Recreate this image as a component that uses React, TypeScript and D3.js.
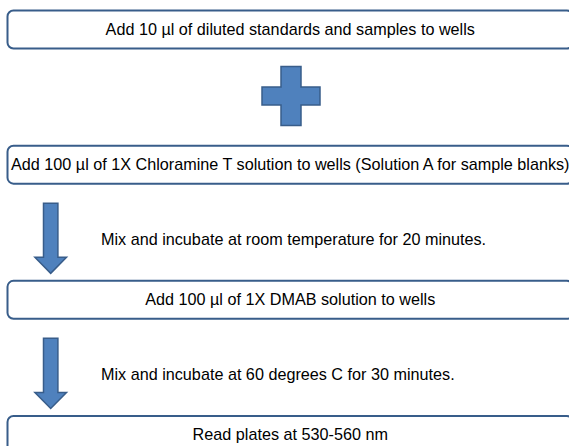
import React from "react";
import * as d3 from "d3";

const steps: string[] = [
  "Add 10 µl of diluted standards and samples to wells",
  "Add 100 µl of 1X Chloramine T solution to wells (Solution A for sample blanks)",
  "Add 100 µl of 1X DMAB solution to wells",
  "Read plates at 530-560 nm",
];
// connector between step i and step i+1
const connectors: string[] = ["plus", "arrow", "arrow"];
const notes: string[] = [
  "",
  "Mix and incubate at room temperature for 20 minutes.",
  "Mix and incubate at 60 degrees C for 30 minutes.",
];

const W = 569;
const H = 446;
const FILL = "#4F81BD";
const EDGE = "#385D8A";
const FONT = "'Liberation Sans', Arial, sans-serif";

export default function App() {
  const boxH = 38;
  const y = d3.scaleLinear().domain([0, 3]).range([10.5, 416]);
  const boxX0 = 7.5;
  const boxX1 = 573;
  const cx = (boxX0 + boxX1) / 2;
  const fs = 16.2;

  const arrowPath = (top: number, tip: number) => {
    const c = 50.7;
    const sw = 7.2;
    const hw = 15.8;
    const hs = tip - 16;
    return d3.line()([
      [c - sw, top],
      [c + sw, top],
      [c + sw, hs],
      [c + hw, hs],
      [c, tip],
      [c - hw, hs],
      [c - sw, hs],
    ]) + "Z";
  };

  const plusPath = (top: number) => {
    const c = 291;
    const vw = 10;
    const hh = 29.5;
    const hw = 29;
    const bh = 9;
    const m = top + hh;
    return d3.line()([
      [c - vw, top],
      [c + vw, top],
      [c + vw, m - bh],
      [c + hw, m - bh],
      [c + hw, m + bh],
      [c + vw, m + bh],
      [c + vw, top + 2 * hh],
      [c - vw, top + 2 * hh],
      [c - vw, m + bh],
      [c - hw, m + bh],
      [c - hw, m - bh],
      [c - vw, m - bh],
    ]) + "Z";
  };

  return (
    <svg
      width={W}
      height={H}
      style={{ position: "absolute", left: 0, top: 0, background: "#fff" }}
      fontFamily={FONT}
    >
      {steps.map((s, i) => (
        <g key={"b" + i}>
          <rect
            x={boxX0}
            y={y(i)}
            width={boxX1 - boxX0}
            height={boxH}
            rx={6}
            ry={6}
            fill="#fff"
            stroke={EDGE}
            strokeWidth={2}
          />
          <text
            x={cx}
            y={y(i) + boxH / 2 + 5.3}
            textAnchor="middle"
            fontSize={fs}
            fill="#000"
          >
            {s}
          </text>
        </g>
      ))}
      {connectors.map((c, i) => {
        const top = y(i) + boxH;
        const next = y(i + 1);
        if (c === "plus") {
          return (
            <path
              key={"c" + i}
              d={plusPath(top + 18)}
              fill={FILL}
              stroke={EDGE}
              strokeWidth={1.5}
            />
          );
        }
        return (
          <g key={"c" + i}>
            <path
              d={arrowPath(top + 19.5, next - 7.5)}
              fill={FILL}
              stroke={EDGE}
              strokeWidth={1.5}
            />
            <text
              x={101}
              y={(top + next) / 2 + 13}
              fontSize={fs}
              fill="#000"
            >
              {notes[i]}
            </text>
          </g>
        );
      })}
    </svg>
  );
}
